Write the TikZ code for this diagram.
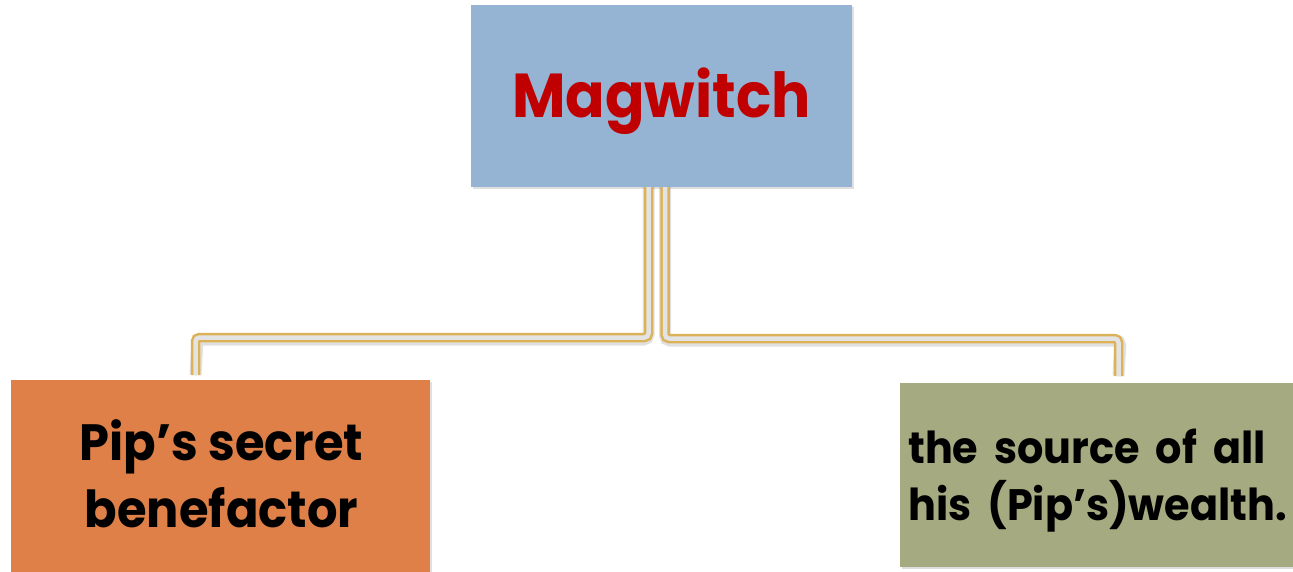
\documentclass[tikz,border=0pt]{standalone}
\usepackage{fontspec}
\setmainfont{Poppins}[FakeStretch=0.94]
\usetikzlibrary{shadows}
\definecolor{topblue}{HTML}{95B3D3}
\definecolor{nameRed}{HTML}{C00000}
\definecolor{boxOrange}{HTML}{DE8048}
\definecolor{boxOlive}{HTML}{A5AA80}
\definecolor{linkGold}{HTML}{DCB258}
\newcommand{\widespaces}{\spaceskip=16pt\relax}
\tikzset{
  box/.style={rectangle, inner sep=0pt, draw=none,
    drop shadow={opacity=0.25, shadow xshift=2pt, shadow yshift=-2pt}},
  link/.style={draw=linkGold, line width=2.5pt, double=gray!22,
    double distance=4.5pt, rounded corners=4pt},
  linkshade/.style={draw=black, opacity=0.12, line width=12pt,
    rounded corners=5pt, shift={(2pt,-2pt)}},
}
\begin{document}
\begin{tikzpicture}[x=1pt,y=-1pt]
\useasboundingbox (0,0) rectangle (1293,572);

% boxes
\node[box, fill=topblue, minimum width=381pt, minimum height=182pt]
  (top) at (661.5,96) {};
\node[box, fill=boxOrange, minimum width=419pt, minimum height=192pt]
  (left) at (220.5,476) {};
\node[box, fill=boxOlive, minimum width=393pt, minimum height=184pt]
  (right) at (1096.5,475) {};

% labels (base anchor of a multi-line node sits on its last line)
\node[text=nameRed, font=\bfseries\fontsize{62}{62}\selectfont, anchor=base]
  (tname) at (661.5,118) {Magwitch};
\node[font=\bfseries\fontsize{51}{67}\selectfont, align=center, anchor=base]
  (tleft) at (221.5,527) {Pip’s secret\\benefactor};
\node[font=\bfseries\fontsize{44}{57}\selectfont\widespaces,
      align=left, anchor=base west, inner sep=0pt]
  (tright) at (908,520) {the source of all\\his (Pip’s)wealth.};

% connectors
\coordinate (lA) at ([xshift=-13pt]top.south);
\coordinate (rA) at ([xshift=3.5pt]top.south);
\coordinate (lB) at (195.5,375);
\coordinate (rB) at (1118.5,376);

\path[linkshade] (lA) |- (195.5,337.5) -- (lB);
\path[linkshade] (rA) |- (1118.5,338.5) -- (rB);
\path[link] (lA) |- (195.5,337.5) -- (lB);
\path[link] (rA) |- (1118.5,338.5) -- (rB);
\end{tikzpicture}
\end{document}
